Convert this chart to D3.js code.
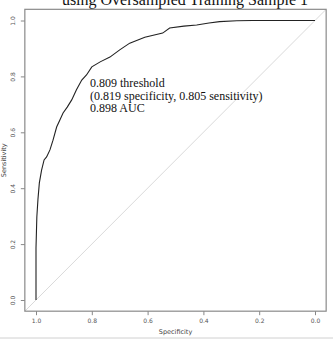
<!DOCTYPE html>
<html>
<head>
<meta charset="utf-8">
<script src="https://cdn.jsdelivr.net/npm/d3@7"></script>
<style>
  body { margin: 0; background: #fff; }
  svg { display: block; }
</style>
</head>
<body>
<svg id="chart" width="333" height="339"></svg>
<script>
// ROC curve points
var specificity = [1.0, 1.0, 0.997, 0.993, 0.988, 0.980, 0.971, 0.962, 0.950, 0.939, 0.926, 0.914, 0.903, 0.888, 0.872, 0.855, 0.836, 0.819, 0.800, 0.770, 0.735, 0.700, 0.664, 0.610, 0.546, 0.521, 0.470, 0.424, 0.380, 0.342, 0.280, 0.224, 0.0];
var sensitivity = [0.0, 0.186, 0.297, 0.360, 0.419, 0.465, 0.501, 0.512, 0.537, 0.572, 0.619, 0.645, 0.669, 0.690, 0.716, 0.752, 0.787, 0.805, 0.834, 0.852, 0.869, 0.895, 0.919, 0.940, 0.955, 0.973, 0.980, 0.984, 0.991, 0.996, 0.999, 1.0, 1.0];
var xTicks = [1.0, 0.8, 0.6, 0.4, 0.2, 0.0];
var yTicks = [0.0, 0.2, 0.4, 0.6, 0.8, 1.0];
var annotation = ["0.809 threshold", "(0.819 specificity, 0.805 sensitivity)", "0.898 AUC"];
var title = "using Oversampled Training Sample 1";

var svg = d3.select("#chart");

let x = d3.scaleLinear().domain([1, 0]).range([36, 315]);
let y = d3.scaleLinear().domain([0, 1]).range([300, 20.5]);

// plot region (R style 4% padding)
let x0 = x(1.04), x1 = x(-0.04), y0 = y(-0.04), y1 = y(1.04);

// title, cut off at the top
svg.append("text")
  .text(title)
  .attr("x", 185)
  .attr("y", 5)
  .attr("text-anchor", "middle")
  .style("font-family", "Liberation Serif, Times New Roman, serif")
  .style("font-size", "16px")
  .style("fill", "#111");

// diagonal
svg.append("clipPath").attr("id", "clip")
  .append("rect").attr("x", x0).attr("y", y1).attr("width", x1 - x0).attr("height", y0 - y1);

svg.append("line")
  .attr("clip-path", "url(#clip)")
  .attr("x1", x(1.04)).attr("y1", y(-0.04))
  .attr("x2", x(-0.04)).attr("y2", y(1.04))
  .style("stroke", "#cfcfcf")
  .style("stroke-width", 0.8);

// roc curve
let line = d3.line()
  .x(function(d, i) { return x(specificity[i]); })
  .y(function(d, i) { return y(sensitivity[i]); });

svg.append("path")
  .datum(specificity)
  .attr("d", line)
  .style("fill", "none")
  .style("stroke", "#222")
  .style("stroke-width", 1.1);

// box
svg.append("rect")
  .attr("x", x0).attr("y", y1)
  .attr("width", x1 - x0).attr("height", y0 - y1)
  .style("fill", "none")
  .style("stroke", "#8a8a8a")
  .style("stroke-width", 1.2);

// axes
let xAxis = svg.append("g")
  .attr("transform", "translate(0," + y0 + ")")
  .call(d3.axisBottom(x).tickValues(xTicks).tickSize(4).tickFormat(d3.format(".1f")));
let yAxis = svg.append("g")
  .attr("transform", "translate(" + x0 + ",0)")
  .call(d3.axisLeft(y).tickValues(yTicks).tickSize(4).tickFormat(d3.format(".1f")));

[xAxis, yAxis].forEach(function(g) {
  g.select(".domain").remove();
  g.selectAll(".tick line").style("stroke", "#888");
  g.selectAll(".tick text")
    .style("fill", "#555")
    .style("font-family", "DejaVu Sans, sans-serif")
    .style("font-size", "6px");
});
xAxis.selectAll(".tick text").attr("y", 8);
yAxis.selectAll(".tick text")
  .attr("x", 0).attr("dy", 0)
  .attr("text-anchor", "middle")
  .attr("transform", "translate(-10,0) rotate(-90)");

// axis titles
svg.append("text")
  .text("Specificity")
  .attr("x", (x0 + x1) / 2)
  .attr("y", 334)
  .attr("text-anchor", "middle")
  .style("fill", "#444")
  .style("font-family", "DejaVu Sans, sans-serif")
  .style("font-size", "6.5px");

svg.append("text")
  .text("Sensitivity")
  .attr("text-anchor", "middle")
  .attr("transform", "translate(6," + (y0 + y1) / 2 + ") rotate(-90)")
  .style("fill", "#444")
  .style("font-family", "DejaVu Sans, sans-serif")
  .style("font-size", "6.5px");

// annotation text
annotation.forEach(function(t, i) {
  svg.append("text")
    .text(t)
    .attr("x", 90)
    .attr("y", 87 + i * 12.5)
    .style("font-family", "Liberation Serif, Times New Roman, serif")
    .style("font-size", "12px")
    .style("fill", "#111");
});

// frame line at the bottom
svg.append("line")
  .attr("x1", 0).attr("x2", 333)
  .attr("y1", 338).attr("y2", 338)
  .style("stroke", "#d0d0d0");
</script>
</body>
</html>
